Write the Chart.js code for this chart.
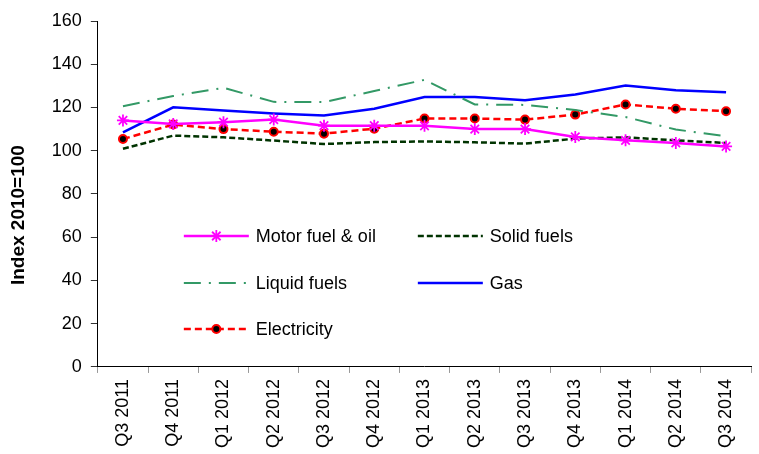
<!DOCTYPE html>
<html lang="en">
<head>
  <meta charset="UTF-8" />
  <title>Fuel price indices</title>
  <script src="https://cdn.jsdelivr.net/npm/chart.js"></script>
  <style>
    body {
      margin: 0;
      background: #fff;
    }
    #wrap {
      width: 759px;
      height: 454px;
    }
  </style>
</head>
<body>
  <div id="wrap">
    <canvas id="chart"></canvas>
  </div>

  <script>
    const quarters = ['Q3 2011', 'Q4 2011', 'Q1 2012', 'Q2 2012', 'Q3 2012', 'Q4 2012', 'Q1 2013',
                      'Q2 2013', 'Q3 2013', 'Q4 2013', 'Q1 2014', 'Q2 2014', 'Q3 2014'];

    const motorFuel   = [114.0, 112.4, 113.2, 114.4, 111.6, 111.6, 111.5, 110.0, 110.0, 106.4, 104.8, 103.6, 102.0];
    const solidFuels  = [100.9, 107.0, 106.2, 104.7, 103.1, 104.0, 104.3, 103.9, 103.3, 105.6, 106.2, 104.8, 103.6];
    const liquidFuels = [120.6, 125.3, 129.1, 122.6, 122.5, 127.6, 132.8, 121.4, 121.2, 118.8, 115.6, 109.8, 106.7];
    const gas         = [108.5, 120.1, 118.6, 117.2, 116.3, 119.4, 124.8, 124.8, 123.4, 126.0, 130.2, 128.0, 127.1];
    const electricity = [105.4, 112.1, 110.0, 108.8, 107.9, 110.2, 114.9, 114.9, 114.4, 116.7, 121.4, 119.4, 118.3];

    const yTicks = { min: 0, max: 160, step: 20 };

    const fontFamily = '"Liberation Sans", Arial, sans-serif';

    // legend drawn inside the plot, two columns like the original
    const insideLegend = {
      id: 'insideLegend',
      afterDatasetsDraw(chart, args, opts) {
        const ctx = chart.ctx;
        const area = chart.chartArea;
        chart.data.datasets.forEach((ds, i) => {
          const col = i % 2;
          const row = Math.floor(i / 2);
          const x = area.left + opts.colX[col];
          const y = area.top + opts.rowY[row];
          ctx.save();
          ctx.strokeStyle = ds.borderColor;
          ctx.lineWidth = ds.borderWidth;
          ctx.setLineDash(ds.borderDash || []);
          ctx.beginPath();
          ctx.moveTo(x, y);
          ctx.lineTo(x + opts.lineLen, y);
          ctx.stroke();
          ctx.setLineDash([]);
          if (ds.pointRadius > 0) {
            ctx.fillStyle = ds.pointBackgroundColor;
            ctx.strokeStyle = ds.pointBorderColor;
            ctx.lineWidth = ds.pointBorderWidth;
            Chart.helpers.drawPoint(ctx, {
              pointStyle: ds.pointStyle,
              radius: ds.pointRadius,
              rotation: 0,
              borderWidth: ds.pointBorderWidth
            }, x + opts.lineLen / 2, y);
          }
          ctx.fillStyle = '#000';
          ctx.font = '18px ' + fontFamily;
          ctx.textBaseline = 'middle';
          ctx.textAlign = 'left';
          ctx.fillText(ds.label, x + opts.lineLen + 7, y + 1);
          ctx.restore();
        });
      }
    };

    new Chart(document.getElementById('chart').getContext('2d'), {
      type: 'line',
      data: {
        labels: quarters,
        datasets: [
          {
            label: 'Motor fuel & oil',
            data: motorFuel,
            borderColor: '#ff00ff',
            borderWidth: 2.5,
            pointStyle: 'star',
            pointRadius: 6,
            pointBorderWidth: 1.8,
            pointBorderColor: '#ff00ff',
            pointBackgroundColor: '#ff00ff'
          },
          {
            label: 'Solid fuels',
            data: solidFuels,
            borderColor: '#003300',
            borderWidth: 2.5,
            borderDash: [6, 3],
            pointRadius: 0
          },
          {
            label: 'Liquid fuels',
            data: liquidFuels,
            borderColor: '#339966',
            borderWidth: 2,
            borderDash: [17, 8, 2, 8],
            pointRadius: 0
          },
          {
            label: 'Gas',
            data: gas,
            borderColor: '#0000ff',
            borderWidth: 2.5,
            pointRadius: 0
          },
          {
            label: 'Electricity',
            data: electricity,
            borderColor: '#ff0000',
            borderWidth: 2.5,
            borderDash: [7, 4],
            pointStyle: 'circle',
            pointRadius: 4,
            pointBorderWidth: 2,
            pointBorderColor: '#ff0000',
            pointBackgroundColor: '#000000'
          }
        ]
      },
      options: {
        responsive: true,
        maintainAspectRatio: false,
        animation: false,
        layout: {
          padding: { top: 21, right: 0, left: 7, bottom: 0 }
        },
        elements: {
          line: { tension: 0, fill: false }
        },
        scales: {
          x: {
            offset: true,
            border: { color: '#000', width: 1 },
            grid: { offset: true, drawOnChartArea: false, tickLength: 6, color: '#999' },
            ticks: {
              autoSkip: false,
              maxRotation: 90,
              minRotation: 90,
              padding: 6,
              color: '#000',
              font: { family: fontFamily, size: 18 }
            }
          },
          y: {
            min: yTicks.min,
            max: yTicks.max,
            border: { color: '#000', width: 1 },
            grid: { drawOnChartArea: false, tickLength: 7, color: '#333' },
            ticks: {
              stepSize: yTicks.step,
              padding: 9,
              color: '#000',
              font: { family: fontFamily, size: 18 }
            },
            title: {
              display: true,
              // trailing spaces push the title down a bit, as in the original
              text: 'Index 2010=100        ',
              color: '#000',
              padding: { top: 0, bottom: 13 },
              font: { family: fontFamily, size: 19, weight: 'bold' }
            }
          }
        },
        plugins: {
          legend: { display: false },
          tooltip: { enabled: false },
          insideLegend: {
            colX: [86, 320],
            rowY: [215, 262, 308],
            lineLen: 65
          }
        }
      },
      plugins: [insideLegend]
    });
  </script>
</body>
</html>
